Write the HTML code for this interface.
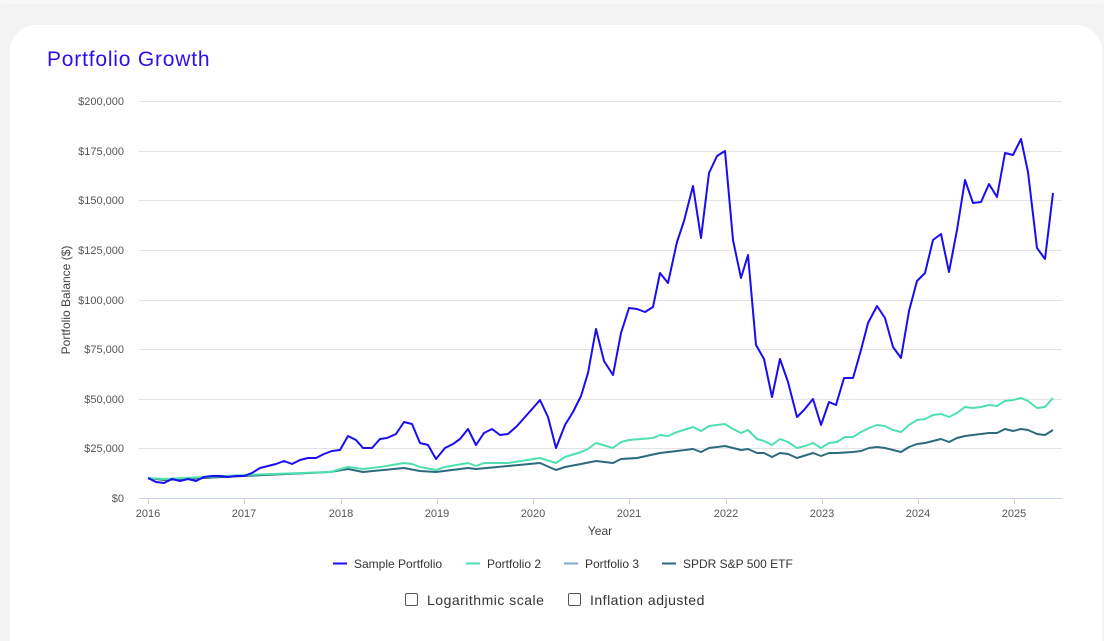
<!DOCTYPE html>
<html><head><meta charset="utf-8"><style>
html,body{margin:0;padding:0;width:1104px;height:641px;overflow:hidden;background:#f3f3f4;font-family:"Liberation Sans",sans-serif}
.wrap{position:relative;width:1104px;height:641px;overflow:hidden}
.top{position:absolute;left:0;top:0;width:1104px;height:4px;background:#f7f7f7;border-radius:0 0 20px 20px}
.card{position:absolute;left:10px;top:25px;width:1092px;height:616px;background:#fff;border-radius:26px 26px 0 0}
h1{position:absolute;left:47px;top:48px;margin:0;font-size:21px;font-weight:normal;color:#2a10f0;letter-spacing:0.8px}
.cb{position:absolute;top:592px;font-size:14px;color:#333;letter-spacing:0.5px}
.cb span{display:inline-block;width:11px;height:11px;border:1px solid #555;border-radius:2px;vertical-align:-1px;margin-right:9px}
</style></head><body><div class="wrap">
<div class="top"></div>
<div class="card"></div>
<h1>Portfolio Growth</h1>
<svg width="1104" height="641" style="position:absolute;left:0;top:0">
<g stroke="#e3e3e3" stroke-width="1">
<line x1="139" x2="1062" y1="101.5" y2="101.5"/><line x1="139" x2="1062" y1="151.5" y2="151.5"/><line x1="139" x2="1062" y1="200.5" y2="200.5"/><line x1="139" x2="1062" y1="250.5" y2="250.5"/><line x1="139" x2="1062" y1="300.5" y2="300.5"/><line x1="139" x2="1062" y1="349.5" y2="349.5"/><line x1="139" x2="1062" y1="399.5" y2="399.5"/><line x1="139" x2="1062" y1="448.5" y2="448.5"/>
</g>
<line x1="139" x2="1062" y1="498.5" y2="498.5" stroke="#c5d3e8"/>
<g stroke="#c5d3e8"><line x1="148.5" x2="148.5" y1="498" y2="504"/><line x1="244.5" x2="244.5" y1="498" y2="504"/><line x1="341.5" x2="341.5" y1="498" y2="504"/><line x1="437.5" x2="437.5" y1="498" y2="504"/><line x1="533.5" x2="533.5" y1="498" y2="504"/><line x1="629.5" x2="629.5" y1="498" y2="504"/><line x1="726.5" x2="726.5" y1="498" y2="504"/><line x1="822.5" x2="822.5" y1="498" y2="504"/><line x1="918.5" x2="918.5" y1="498" y2="504"/><line x1="1014.5" x2="1014.5" y1="498" y2="504"/></g>
<g font-size="11" fill="#555" text-anchor="end">
<text x="124" y="105">$200,000</text><text x="124" y="155">$175,000</text><text x="124" y="204">$150,000</text><text x="124" y="254">$125,000</text><text x="124" y="304">$100,000</text><text x="124" y="353">$75,000</text><text x="124" y="403">$50,000</text><text x="124" y="452">$25,000</text><text x="124" y="502">$0</text>
</g>
<g font-size="11" fill="#555" text-anchor="middle">
<text x="148" y="517">2016</text><text x="244" y="517">2017</text><text x="341" y="517">2018</text><text x="437" y="517">2019</text><text x="533" y="517">2020</text><text x="629" y="517">2021</text><text x="726" y="517">2022</text><text x="822" y="517">2023</text><text x="918" y="517">2024</text><text x="1014" y="517">2025</text>
<text x="600" y="535" font-size="12" fill="#444">Year</text>
<text transform="translate(70,300) rotate(-90)" font-size="12" fill="#444">Portfolio Balance ($)</text>
</g>
<g fill="none" stroke-width="2" stroke-linejoin="round">
<polyline stroke="#2d6a7e" points="148,478 164,480 244,476 330,472 348,469 363,472 404,468 420,471 436,472 468,468 476,469 508,466 540,463 556,470 565,467 581,464 596,461 613,463 621,459 637,458 660,453 677,451 693,449 701,452 709,448 725,446 741,450 748,449 757,453 764,453 772,457 780,453 788,454 797,458 813,453 821,456 829,453 837,453 853,452 861,451 869,448 877,447 885,448 901,452 909,447 917,444 925,443 933,441 941,439 949,442 957,438 965,436 981,434 989,433 997,433 1005,429 1013,431 1021,429 1028,430 1037,434 1045,435 1053,430"/>
<polyline stroke="#4fe0b0" points="148,478 164,479 244,475 330,472 348,467 363,469 380,467 404,463 412,464 420,467 436,470 445,467 468,463 476,466 484,463 508,463 540,458 556,463 565,457 581,452 588,449 596,443 613,448 621,442 629,440 653,438 660,435 668,436 677,432 693,427 701,431 709,426 725,424 733,429 741,433 748,430 757,439 764,441 772,445 780,439 788,442 797,448 805,446 813,443 821,448 829,443 837,442 845,437 853,437 861,432 869,428 877,425 885,426 893,430 901,432 909,425 917,420 925,419 933,415 941,414 949,417 957,413 965,407 973,408 981,407 989,405 997,406 1005,401 1013,400 1021,398 1028,401 1037,408 1045,407 1053,398"/>
<polyline stroke="#1a0df0" points="148,478 156,482 164,483 172,479 180,481 188,479 196,481 204,477 212,476 220,476 228,477 236,476 244,476 252,473 260,468 268,466 276,464 284,461 292,464 300,460 308,458 316,458 324,454 332,451 340,450 348,436 356,440 363,448 372,448 380,439 387,438 396,434 404,422 412,424 420,443 428,445 436,459 445,448 453,444 460,439 468,429 476,445 484,433 492,429 500,435 508,434 517,426 525,417 533,408 540,400 548,417 556,448 565,425 573,412 581,396 588,373 596,329 604,361 613,375 621,333 629,308 637,309 645,312 653,307 660,273 668,283 677,242 684,221 693,186 701,238 709,173 717,156 725,151 733,240 741,278 748,255 756,345 764,359 772,397 780,359 788,382 797,417 804,410 813,399 821,425 829,402 836,405 844,378 853,378 861,350 868,323 877,306 885,318 893,347 901,358 909,311 917,281 925,273 933,240 941,234 949,272 957,230 965,180 973,203 981,202 989,184 997,197 1005,153 1013,155 1021,139 1028,172 1037,248 1045,259 1053,193"/>
</g>
<g font-size="12" fill="#333">
<line x1="333" x2="347" y1="563.5" y2="563.5" stroke="#1a0df0" stroke-width="2"/><text x="354" y="568">Sample Portfolio</text>
<line x1="466" x2="480" y1="563.5" y2="563.5" stroke="#4fe0b0" stroke-width="2"/><text x="487" y="568">Portfolio 2</text>
<line x1="564" x2="578" y1="563.5" y2="563.5" stroke="#7fa7d0" stroke-width="2"/><text x="585" y="568">Portfolio 3</text>
<line x1="662" x2="676" y1="563.5" y2="563.5" stroke="#2d6a7e" stroke-width="2"/><text x="683" y="568">SPDR S&amp;P 500 ETF</text>
</g>
</svg>
<div class="cb" style="left:405px"><span></span>Logarithmic scale</div>
<div class="cb" style="left:568px"><span></span>Inflation adjusted</div>
</div></body></html>
